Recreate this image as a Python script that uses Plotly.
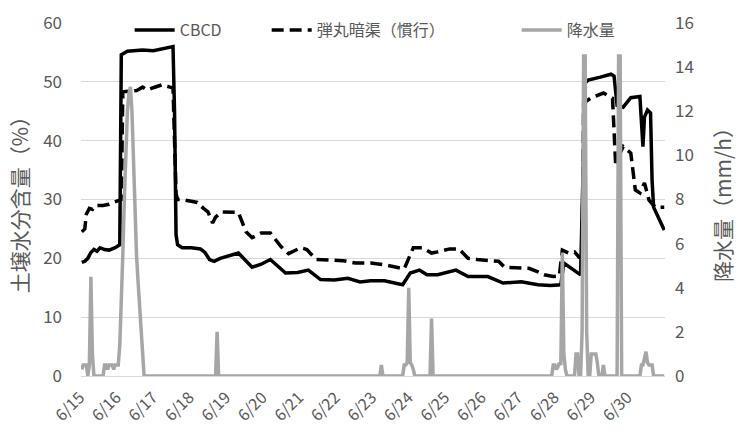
import plotly.graph_objects as go

# ---- data (hours since 6/15 00:00) ----
day_labels = ["6/15", "6/16", "6/17", "6/18", "6/19", "6/20", "6/21", "6/22",
              "6/23", "6/24", "6/25", "6/26", "6/27", "6/28", "6/29", "6/30"]

cbcd_h = [0, 2, 4, 6, 8, 10, 12, 15, 18, 22, 25, 26, 30, 40, 47, 53, 59, 60, 61, 62, 63,
          66, 72, 78, 81, 84, 87, 91, 103, 112, 118, 124, 134, 142, 149, 157, 166, 175,
          183, 190, 199, 211, 216, 222, 227, 234, 246, 254, 267, 277, 289, 300, 308, 315,
          317, 321, 326, 328, 331, 333, 341, 348, 350, 352, 356, 361, 367, 369, 370, 372,
          374, 375, 376, 379, 383]
cbcd_v = [19.3, 19.5, 20.0, 21.0, 21.5, 21.2, 21.8, 21.5, 21.4, 21.8, 22.3, 54.6, 55.2,
          55.4, 55.3, 55.6, 55.9, 56.0, 45.0, 24.0, 22.3,
          21.8, 21.8, 21.6, 21.0, 19.8, 19.5, 20.0, 20.9, 18.5, 19.0, 19.8, 17.5, 17.6,
          18.0, 16.4, 16.3, 16.6, 16.0, 16.2, 16.2, 15.5, 17.5, 18.0, 17.2, 17.2, 18.0,
          16.9, 16.9, 15.8, 16.0, 15.5, 15.4, 15.5, 19.2, 18.5, 17.7, 17.2, 49.8, 50.3,
          50.8, 51.3, 51.0, 46.0, 45.7, 47.3, 47.5, 39.0, 44.0, 45.2, 44.7, 33.3, 28.7,
          27.0, 24.8]

dan_h = [0, 2, 3, 5, 7, 9, 14, 18, 24, 26, 27, 30, 36, 40, 43, 47, 53, 58, 60, 61, 62, 63,
         66, 72, 76, 80, 83, 86, 88, 92, 100, 103, 108, 112, 118, 124, 131, 136, 144, 148,
         154, 160, 172, 180, 190, 199, 209, 212, 215, 218, 224, 230, 234, 242, 248, 254,
         260, 268, 274, 278, 288, 294, 300, 304, 310, 314, 316, 320, 324, 327, 329, 330,
         335, 343, 347, 349, 351, 356, 361, 364, 367, 370, 373, 377, 383]
dan_v = [24.5, 25.0, 27.5, 28.5, 28.3, 29.0, 29.0, 29.2, 29.8, 30.0, 48.3, 48.4, 48.5,
         49.1, 48.6, 49.0, 49.5, 49.1, 49.0, 40.0, 31.0, 30.0,
         30.0, 29.7, 29.5, 28.5, 27.9, 26.0, 27.0, 27.9, 27.9, 27.8, 24.5, 23.5, 24.3,
         24.3, 22.0, 20.8, 21.8, 21.5, 19.8, 19.7, 19.6, 19.2, 19.2, 18.9, 18.4, 18.2,
         20.0, 21.8, 21.8, 20.9, 21.1, 21.6, 21.6, 20.0, 19.8, 19.7, 19.5, 18.5, 18.4,
         18.3, 17.7, 17.2, 16.9, 17.0, 21.4, 20.9, 21.1, 20.2, 20.0, 46.4, 47.3, 48.1,
         47.5, 47.2, 36.2, 39.0, 37.9, 31.6, 31.1, 32.8, 29.9, 28.7, 28.7]

# hourly rainfall (mm/h), 384 hours; only non-zero hours listed
rain_nonzero = {
    0: 0.3, 1: 0.5, 2: 0.5, 3: 0.5, 5: 0.5, 6: 4.5, 7: 1.0,
    15: 0.5, 16: 0.5, 17: 0.3, 18: 0.5, 19: 0.5, 20: 0.5, 21: 0.3, 22: 0.5, 23: 0.5,
    24: 0.5, 25: 1.4, 26: 3.0, 27: 5.5, 28: 8.0, 29: 10.5, 30: 12.0, 31: 12.8,
    32: 13.1, 33: 12.0, 34: 9.7, 35: 7.2, 36: 5.5, 37: 4.3, 38: 3.2, 39: 2.0, 40: 0.8,
    89: 2.0,
    197: 0.5,
    212: 0.5, 213: 0.5, 214: 0.6, 215: 4.0, 216: 0.6, 217: 0.5, 218: 0.3,
    230: 2.6,
    310: 0.5, 311: 0.5, 312: 0.3, 313: 0.4, 314: 0.6, 315: 0.5, 316: 5.6, 317: 1.0,
    318: 0.3,
    325: 1.0, 326: 1.0, 329: 2.0, 330: 14.5, 331: 14.5, 332: 2.0,
    335: 1.0, 336: 1.0, 337: 1.0, 338: 1.0, 339: 0.6, 343: 0.5,
    353: 14.5, 354: 14.5,
    368: 0.5, 369: 0.5, 370: 0.8, 371: 1.1, 372: 0.6, 373: 0.5, 374: 0.5, 375: 0.5,
}
rain_h = list(range(384))
rain_v = [rain_nonzero.get(h, 0.0) for h in rain_h]

tick_vals = [24 * i for i in range(len(day_labels))]

FONT = "Noto Sans CJK JP"
GREY_TXT = "#595959"

fig = go.Figure()
fig.add_trace(go.Scatter(x=cbcd_h, y=cbcd_v, name="CBCD", mode="lines",
                         line=dict(color="black", width=3.5), legendwidth=82))
fig.add_trace(go.Scatter(x=dan_h, y=dan_v, name="弾丸暗渠（慣行）", mode="lines",
                         line=dict(color="black", width=3.5, dash="12px,6px"),
                         legendwidth=195))
fig.add_trace(go.Scatter(x=rain_h, y=rain_v, name="降水量", mode="lines", yaxis="y2",
                         line=dict(color="#a6a6a6", width=3.5), legendwidth=68))

fig.update_layout(
    width=739, height=432,
    margin=dict(l=81, r=74, t=23, b=56, autoexpand=False),
    paper_bgcolor="white", plot_bgcolor="white",
    font=dict(family=FONT, color=GREY_TXT, size=17),
    showlegend=True,
    legend=dict(orientation="h", x=0.52, xanchor="center", y=0.98, yanchor="middle",
                bgcolor="rgba(0,0,0,0)", font=dict(size=16, color=GREY_TXT),
                traceorder="normal", itemwidth=40),
    xaxis=dict(range=[-0.5, 383.5], tickvals=tick_vals, ticktext=day_labels,
               tickangle=-45, showgrid=False, zeroline=False, showline=False,
               ticks="", ticklabelstandoff=8, ticklabelshift=-2, automargin=False,
               tickfont=dict(size=16, color=GREY_TXT)),
    yaxis=dict(range=[0, 60], dtick=10, showgrid=True, gridcolor="#d9d9d9",
               gridwidth=1.2, zeroline=True, zerolinecolor="#d9d9d9", zerolinewidth=1.2,
               showline=False, ticks="", ticklabelstandoff=18, automargin=False,
               title=dict(text="土壌水分含量（%）", font=dict(size=21, color=GREY_TXT),
                          standoff=8)),
    yaxis2=dict(range=[0, 16], dtick=2, overlaying="y", side="right", showgrid=False,
                zeroline=False, showline=False, ticks="", ticklabelstandoff=9,
                automargin=False,
                title=dict(text="降水量（mm/h）", font=dict(size=21, color=GREY_TXT),
                           standoff=23)),
)

fig.write_html("out.html", config={"displayModeBar": False},
               post_script="document.body.style.margin='0';document.body.style.padding='0';")
